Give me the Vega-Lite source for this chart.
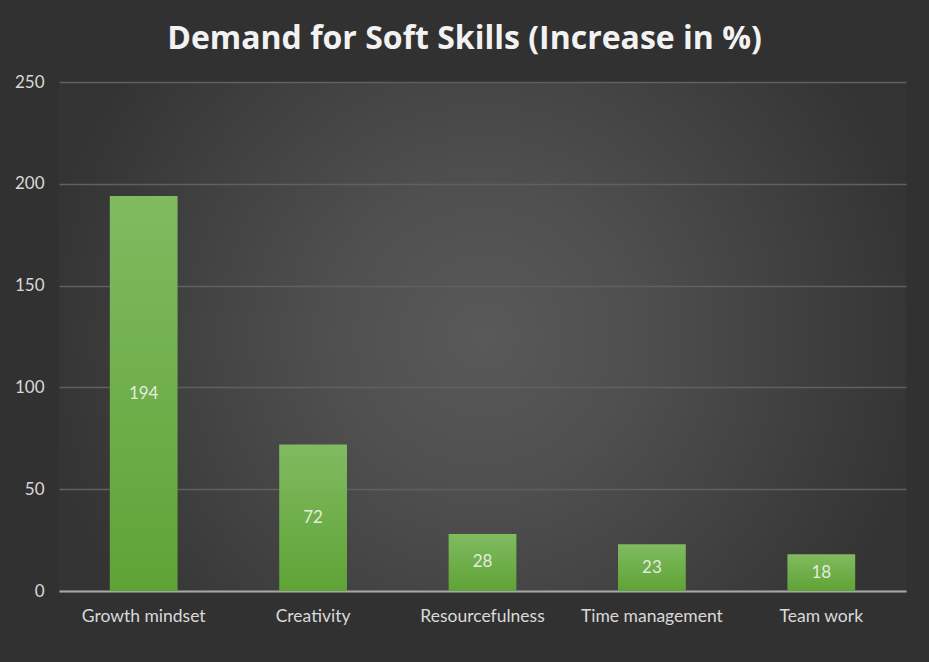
{
  "$schema": "https://vega.github.io/schema/vega-lite/v6.json",
  "autosize": {"type": "none"},
  "padding": {"left": 59, "top": 82, "right": 23, "bottom": 71},
  "width": 847,
  "height": 509,
  "background": "#313131",
  "title": {
    "text": "Demand for Soft Skills (Increase in %)",
    "font": "Open Sans",
    "fontSize": 32,
    "fontWeight": "bold",
    "color": "#f2f2f2",
    "anchor": "middle",
    "offset": 17,
    "dx": -18
  },
  "config": {
    "view": {
      "stroke": null,
      "fill": {
        "gradient": "radial",
        "x1": 0.5, "y1": 0.5, "r1": 0,
        "x2": 0.5, "y2": 0.5, "r2": 0.52,
        "stops": [
          {"offset": 0, "color": "#595959"},
          {"offset": 0.35, "color": "#4f4f4f"},
          {"offset": 1, "color": "#343434"}
        ]
      }
    }
  },
  "data": {
    "values": [
      {"skill": "Growth mindset", "value": 194},
      {"skill": "Creativity", "value": 72},
      {"skill": "Resourcefulness", "value": 28},
      {"skill": "Time management", "value": 23},
      {"skill": "Team work", "value": 18}
    ]
  },
  "encoding": {
    "x": {
      "field": "skill",
      "type": "nominal",
      "sort": null,
      "title": null,
      "scale": {"paddingInner": 0.6, "paddingOuter": 0.3},
      "axis": {
        "labelAngle": 0,
        "labelFont": "Lato",
        "labelFontSize": 17.5,
        "labelColor": "#d9d9d9",
        "labelPadding": 16,
        "ticks": false,
        "domainColor": "#a6a6a6",
        "domainWidth": 2
      }
    }
  },
  "layer": [
    {
      "mark": {
        "type": "bar",
        "color": {
          "gradient": "linear",
          "x1": 0, "y1": 0, "x2": 0, "y2": 1,
          "stops": [
            {"offset": 0, "color": "#80bb60"},
            {"offset": 1, "color": "#5fa336"}
          ]
        }
      },
      "encoding": {
        "y": {
          "field": "value",
          "type": "quantitative",
          "title": null,
          "scale": {"domain": [0, 250], "nice": false},
          "axis": {
            "values": [0, 50, 100, 150, 200, 250],
            "labelFont": "Lato",
            "labelFontSize": 17,
            "labelColor": "#d9d9d9",
            "labelPadding": 15,
            "ticks": false,
            "domain": false,
            "gridColor": "#606060",
            "gridWidth": 1.5
          }
        }
      }
    },
    {
      "mark": {
        "type": "text",
        "font": "Lato",
        "fontSize": 17,
        "color": "#e3ecdc",
        "baseline": "middle"
      },
      "encoding": {
        "y": {
          "field": "value",
          "type": "quantitative",
          "scale": {"domain": [0, 500], "nice": false},
          "axis": null
        },
        "text": {"field": "value", "type": "quantitative"}
      }
    }
  ],
  "resolve": {"scale": {"y": "independent"}}
}
